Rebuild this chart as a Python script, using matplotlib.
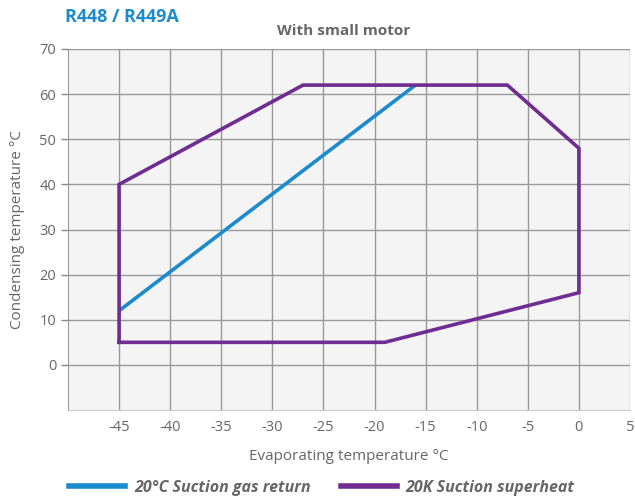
import matplotlib.pyplot as plt
from matplotlib.lines import Line2D

# envelope data (evaporating temp, condensing temp)
return_gas_x = [-45, -16]
return_gas_y = [12, 62]

superheat_x = [-45, -45, -27, -7, 0, 0, -19, -45]
superheat_y = [5, 40, 62, 62, 48, 16, 5, 5]

x_ticks = [-45, -40, -35, -30, -25, -20, -15, -10, -5, 0, 5]
y_ticks = [0, 10, 20, 30, 40, 50, 60, 70]

blue = '#1b8bcd'
purple = '#6f2c91'
grey = '#666666'

plt.rcParams['font.family'] = ['Open Sans', 'DejaVu Sans']

fig = plt.figure(figsize=(6.35, 4.99), dpi=100)
ax = fig.add_axes([68 / 635, 1 - 410 / 499, 562 / 635, 361 / 499])
ax.set_facecolor('#f4f4f4')

ax.plot(return_gas_x, return_gas_y, color=blue, linewidth=2.6, solid_capstyle='butt')
ax.plot(superheat_x, superheat_y, color=purple, linewidth=2.6, solid_joinstyle='miter')

ax.set_xlim(-50, 5)
ax.set_ylim(-10, 70)
ax.set_xticks(x_ticks)
ax.set_yticks(y_ticks)
ax.set_xticklabels([str(t) for t in x_ticks])
ax.set_yticklabels([str(t) for t in y_ticks])
ax.grid(True, color='#999999', linewidth=1.0)
ax.set_axisbelow(True)
ax.tick_params(axis='both', colors='#888888', labelcolor=grey, labelsize=10.5, length=5, width=1.0)
ax.tick_params(axis='x', length=0, pad=7)

for side in ['top', 'right']:
    ax.spines[side].set_visible(False)
ax.spines['left'].set_color('#999999')
ax.spines['bottom'].set_color('#cccccc')

ax.set_xlabel('Evaporating temperature °C', color=grey, fontsize=11, labelpad=10)
ax.set_ylabel('Condensing temperature °C', color=grey, fontsize=11, labelpad=10)

fig.text(65 / 635, 1 - 17 / 499, 'R448 / R449A', color=blue, fontsize=13,
         fontweight='bold', ha='left', va='center')
fig.text(344 / 635, 1 - 31 / 499, 'With small motor', color=grey, fontsize=11,
         fontweight='bold', ha='center', va='center')

handles = [Line2D([], [], color=blue, linewidth=4),
           Line2D([], [], color=purple, linewidth=4)]
labels = ['20°C Suction gas return', '20K Suction superheat']
leg = fig.legend(handles, labels, loc='center left', bbox_to_anchor=(55 / 635, 1 - 488 / 499),
                 ncol=2, frameon=False, handlelength=3.5, handletextpad=0.55, columnspacing=1.9,
                 prop={'size': 11.5, 'style': 'italic', 'weight': 'bold'})
for t in leg.get_texts():
    t.set_color(grey)

fig.savefig('out.png', dpi=100)
